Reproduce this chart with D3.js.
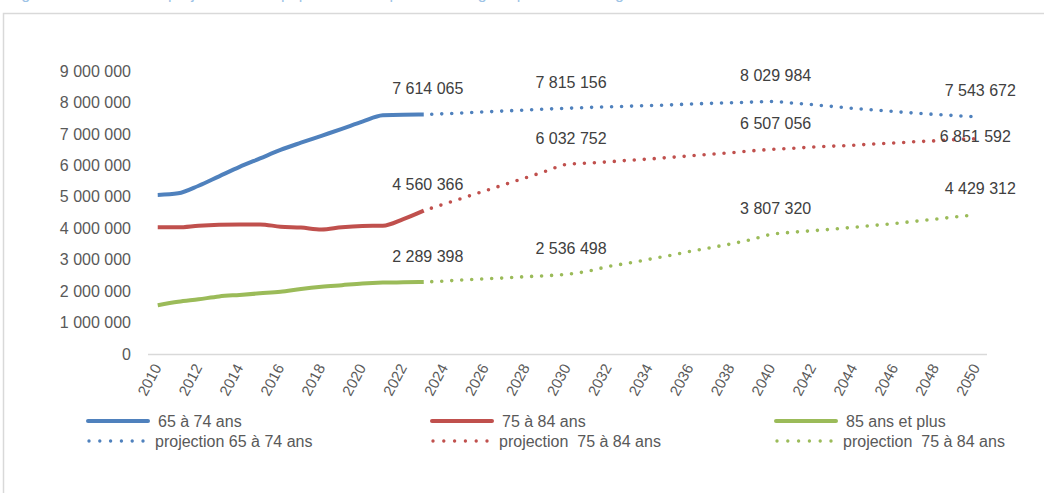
<!DOCTYPE html>
<html><head><meta charset="utf-8">
<script src="https://cdn.jsdelivr.net/npm/d3@7/dist/d3.min.js"></script>
<style>
body{margin:0;background:#fff;}
text{font-family:"Liberation Sans",Arial,sans-serif;}
</style>
</head><body>
<svg id="c" width="1044" height="493"></svg>
<script>
// ---- categories ----
const years = [2010,2011,2012,2013,2014,2015,2016,2017,2018,2019,2020,2021,2022,2023,2024,2025,2026,2027,2028,2029,2030,
  2031,2032,2033,2034,2035,2036,2037,2038,2039,2040,2041,2042,2043,2044,2045,2046,2047,2048,2049,2050];
const xTickYears = [2010,2012,2014,2016,2018,2020,2022,2024,2026,2028,2030,2032,2034,2036,2038,2040,2042,2044,2046,2048,2050];
const yTicks = [0,1000000,2000000,3000000,4000000,5000000,6000000,7000000,8000000,9000000];

// ---- observed series (2010-2023) ----
const histYears = [2010,2011,2012,2013,2014,2015,2016,2017,2018,2019,2020,2021,2022,2023];
const obs65_74 = [5060000,5110000,5350000,5650000,5950000,6220000,6490000,6720000,6940000,7160000,7390000,7590000,7612000,7614065];
const obs75_84 = [4030000,4030000,4080000,4110000,4120000,4120000,4050000,4020000,3960000,4030000,4070000,4080000,4290000,4560366];
const obs85p   = [1550000,1660000,1740000,1830000,1880000,1930000,1980000,2070000,2140000,2190000,2240000,2270000,2280000,2289398];

// ---- projections (2023-2050) ----
const projYears = [2023,2024,2025,2026,2027,2028,2029,2030,2031,2032,2033,2034,2035,2036,2037,2038,2039,2040,
  2041,2042,2043,2044,2045,2046,2047,2048,2049,2050];
const proj65_74 = [7614065,7640000,7670000,7700000,7730000,7760000,7790000,7815156,7840000,7860000,7880000,7900000,7920000,7950000,7970000,7990000,8010000,8029984,
  7980000,7930000,7870000,7810000,7760000,7710000,7660000,7620000,7580000,7543672];
const proj75_84 = [4560366,4770000,4980000,5190000,5400000,5610000,5820000,6032752,6070000,6110000,6160000,6200000,6250000,6300000,6350000,6400000,6460000,6507056,
  6540000,6580000,6610000,6640000,6680000,6710000,6750000,6780000,6820000,6851592];
const proj85p   = [2289398,2320000,2360000,2390000,2420000,2460000,2490000,2536498,2630000,2780000,2890000,3010000,3130000,3260000,3380000,3500000,3640000,3807320,
  3870000,3920000,3970000,4030000,4090000,4150000,4220000,4290000,4360000,4429312];

// ---- labelled points ----
const labelYears = [2023,2030,2040,2050];

// ---- legend ----
const legendNames = ["65 à 74 ans","75 à 84 ans","85 ans et plus",
  "projection 65 à 74 ans","projection  75 à 84 ans","projection  75 à 84 ans"];
const colors = ["#4f81bd","#c0504d","#9bbb59"];

// ================= drawing =================
const svg = d3.select("#c");

// frame & clipped title (only its lower edge shows, as in the reference)
svg.append("text").attr("x",8).attr("y",-1).attr("font-size",16).attr("fill","#9dc3e6")
  .text("Figure 1 : Évolution et projection de la population des personnes âgées par classe d'âge de 2010 à 2050");
svg.append("rect").attr("x",3.5).attr("y",13.5).attr("width",1060).attr("height",500)
  .attr("fill","none").attr("stroke","#d9d9d9").attr("stroke-width",1.5);

const x = d3.scalePoint().domain(years).range([147.5, 986.5]).padding(0.5);
const y = d3.scaleLinear().domain([0, 9000000]).range([354, 71]);
const fmt = v => d3.format(",")(v).replace(/,/g, "\u00a0");

// Y axis
const gy = svg.append("g").attr("transform","translate(147,0)")
  .call(d3.axisLeft(y).tickValues(yTicks).tickSize(0).tickPadding(16).tickFormat(fmt));
gy.select(".domain").remove();
gy.selectAll("text").attr("font-size",16).attr("fill","#595959")
  .style("font-family","'Liberation Sans',Arial,sans-serif");

// X axis
const gx = svg.append("g").attr("transform","translate(0,354)")
  .call(d3.axisBottom(x).tickValues(xTickYears).tickSize(0).tickSizeOuter(0).tickFormat(d=>String(d)));
gx.select(".domain").attr("stroke","#d9d9d9").attr("stroke-width",1.5);
gx.selectAll(".tick text")
  .attr("font-size",15).attr("fill","#595959")
  .style("font-family","'Liberation Sans',Arial,sans-serif")
  .attr("text-anchor","end").attr("dy","0.35em").attr("y",0)
  .attr("transform","translate(-1,11) rotate(-62)");

// series
const obs = [obs65_74, obs75_84, obs85p];
const proj = [proj65_74, proj75_84, proj85p];
const line = d3.line().x(d=>x(d[0])).y(d=>y(d[1])).curve(d3.curveMonotoneX);

obs.forEach((s,i)=>{
  svg.append("path").datum(histYears.map((yr,j)=>[yr,s[j]]))
    .attr("d",line).attr("fill","none").attr("stroke",colors[i])
    .attr("stroke-width",4).attr("stroke-linejoin","round");
});
proj.forEach((s,i)=>{
  svg.append("path").datum(projYears.map((yr,j)=>[yr,s[j]]))
    .attr("d",line).attr("fill","none").attr("stroke",colors[i])
    .attr("stroke-width",3.6).attr("stroke-linecap","round")
    .attr("stroke-dasharray","0 10").attr("stroke-dashoffset",2);
});

// data labels
const allVal = (i, yr) => proj[i][projYears.indexOf(yr)];
const labelShift = {"1-2050":[-5,24]};
[0,1,2].forEach(i=>{
  labelYears.forEach(yr=>{
    const v = allVal(i, yr);
    const sh = labelShift[i+"-"+yr] || [0,0];
    svg.append("text")
      .attr("x", x(yr)+4+sh[0]).attr("y", y(v)-20.5+sh[1])
      .attr("text-anchor","middle").attr("font-size",16).attr("fill","#404040")
      .text(fmt(v));
  });
});

// legend
const colX = [88, 432, 776];
const rowY = [421, 441];
legendNames.forEach((name,k)=>{
  const col = k%3, row = Math.floor(k/3);
  const g = svg.append("g");
  const lx = colX[col], ly = rowY[row];
  if(row===0){
    g.append("line").attr("x1",lx).attr("x2",lx+60).attr("y1",ly).attr("y2",ly)
      .attr("stroke",colors[col]).attr("stroke-width",4).attr("stroke-linecap","round");
    g.append("text").attr("x",lx+70).attr("y",ly).attr("dy","0.35em")
      .attr("font-size",16).attr("fill","#595959").style("white-space","pre").text(name);
  } else {
    g.append("line").attr("x1",lx+1).attr("x2",lx+56).attr("y1",ly).attr("y2",ly)
      .attr("stroke",colors[col]).attr("stroke-width",3.4).attr("stroke-linecap","round")
      .attr("stroke-dasharray","0 10.8");
    g.append("text").attr("x",lx+67).attr("y",ly).attr("dy","0.35em")
      .attr("font-size",16).attr("fill","#595959")
      .style("white-space","pre").text(name);
  }
});
</script>
</body></html>
